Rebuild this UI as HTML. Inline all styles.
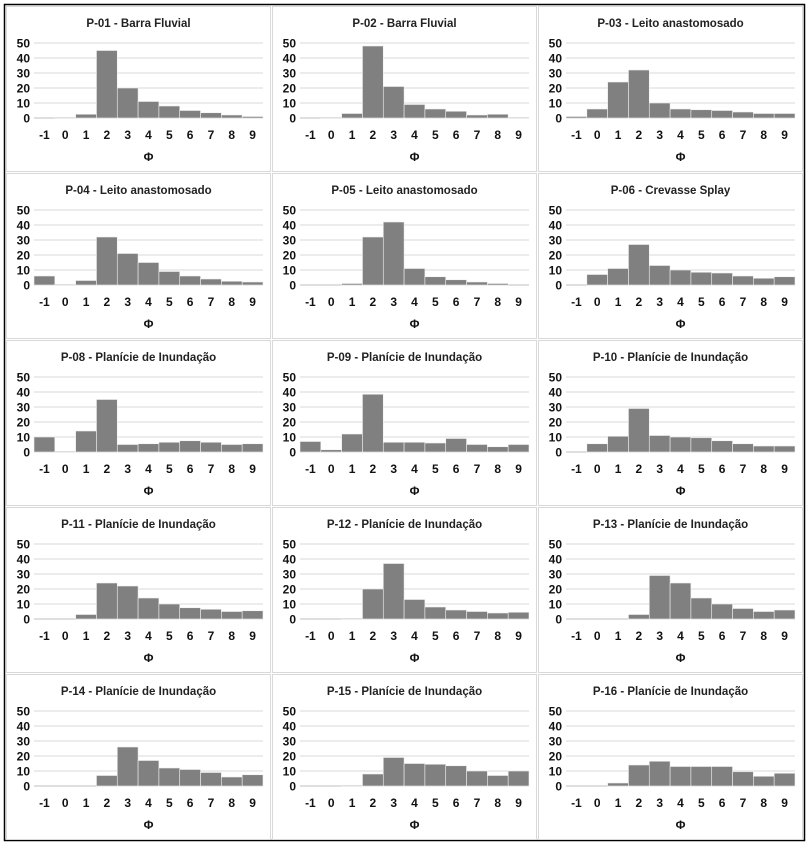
<!DOCTYPE html>
<html><head><meta charset="utf-8"><style>
body{margin:0;background:#fff;}
svg{display:block;font-family:"Liberation Sans",sans-serif;font-weight:bold;}
</style></head><body>
<svg id="c" width="809" height="845"></svg>
<script>
const titles=["P-01 - Barra Fluvial","P-02 - Barra Fluvial","P-03 - Leito anastomosado","P-04 - Leito anastomosado","P-05 - Leito anastomosado","P-06 - Crevasse Splay","P-08 - Planície de Inundação","P-09 - Planície de Inundação","P-10 - Planície de Inundação","P-11 - Planície de Inundação","P-12 - Planície de Inundação","P-13 - Planície de Inundação","P-14 - Planície de Inundação","P-15 - Planície de Inundação","P-16 - Planície de Inundação"];
const categories=["-1","0","1","2","3","4","5","6","7","8","9"];
const yTicks=[0,10,20,30,40,50];
const p01=[0,0.5,2.5,45,20,11,8,5,3.5,2,1];
const p02=[0,0.5,3,48,21,9,6,4.5,2,2.5,0.5];
const p03=[1,6,24,32,10,6,5.5,5,4,3,3];
const p04=[6,0.5,3,32,21,15,9,6,4,2.5,2];
const p05=[0,0,1,32,42,11,5.5,3.5,2,1,0];
const p06=[0,7,11,27,13,10,8.5,8,6,4.5,5.5];
const p08=[10,0.5,14,35,5,5.5,6.5,7.5,6.5,5,5.5];
const p09=[7,1.5,12,38.5,6.5,6.5,6,9,5,3.5,5];
const p10=[0,5.5,10.5,29,11,10,9.5,7.5,5.5,4,4];
const p11=[0,0,3,24,22,14,10,7.5,6.5,5,5.5];
const p12=[0,0,0.5,20,37,13,8,6,5,4,4.5];
const p13=[0,0,0,3,29,24,14,10,7,5,6];
const p14=[0,0,0,7,26,17,12,11,9,6,7.5];
const p15=[0,0,0.5,8,19,15,14.5,13.5,10,7,10];
const p16=[0,0,2,14,16.5,13,13,13,9.5,6.5,8.5];
const series=[p01,p02,p03,p04,p05,p06,p08,p09,p10,p11,p12,p13,p14,p15,p16];
const NS="http://www.w3.org/2000/svg";
const svg=document.getElementById('c');
function mk(tag,attrs,parent){const e=document.createElementNS(NS,tag);for(const k in attrs)e.setAttribute(k,attrs[k]);(parent||svg).appendChild(e);return e;}
const outer=mk('rect',{x:4.5,y:4.5,width:800,height:836,fill:'none',stroke:'#000','stroke-width':1.5});


const colX=[6,272,538],rowY=[6,173,340,507,674],pw=265,ph=166;
series.forEach((vals,i)=>{
  const ox=colX[i%3],oy=rowY[Math.floor(i/3)];
  const g=mk('g',{});
  
  
  const fr=mk('rect',{x:ox+0.5,y:oy+0.5,width:pw-1,height:ph-1,fill:'#fff',stroke:'#d9d9d9'},g);
  
  
  const x0=ox+28,x1=ox+257,yb=oy+112,yt=oy+37;
  const ys=v=>yb-(v/50)*(yb-yt);
  const bw=(x1-x0)/categories.length;
  const xs=k=>x0+k*bw;
  const t=mk('text',{x:ox+pw/2,y:oy+21,'text-anchor':'middle','font-size':11.5,fill:'#222'},g);
  t.textContent=titles[i];
  
  
  yTicks.forEach(v=>{
    const l=mk('line',{x1:x0,x2:x1,y1:ys(v),y2:ys(v),stroke:v===0?'#bfbfbf':'#d9d9d9'},g);
    
    
    const tl=mk('text',{x:x0-4,y:ys(v)+4.5,'text-anchor':'end','font-size':12,fill:'#111'},g);
    tl.textContent=v;
    
    
  });
  vals.forEach((v,k)=>{
    if(v<=0)return;
    const b=mk('rect',{x:xs(k),y:ys(v),width:bw,height:yb-ys(v),fill:'#808080',stroke:'#f0f0f0','stroke-width':0.6},g);
    
    
  });
  categories.forEach((c,k)=>{
    const tl=mk('text',{x:xs(k)+bw/2,y:oy+133,'text-anchor':'middle','font-size':12,fill:'#111'},g);
    tl.textContent=c;
    
    
  });
  const ax=mk('text',{x:(x0+x1)/2,y:oy+155,'text-anchor':'middle','font-size':12,fill:'#111'},g);
  ax.textContent='Φ';
  
  
});
</script>
</body></html>
